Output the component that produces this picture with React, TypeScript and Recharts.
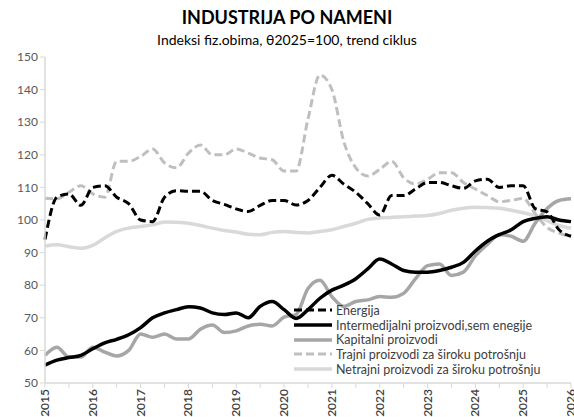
import { LineChart, Line, XAxis, YAxis } from 'recharts';

// kvartalne tačke od 2015 do 2026 (očitano sa grafika)
const startYear = 2015;

const energija = [
  94, 107, 108, 104.5, 110, 110.5, 107, 105, 100, 99.5, 107, 109,
  108.8, 108.8, 106, 104.8, 103.4, 102.6, 104.5, 106, 106, 104.6, 106, 110,
  113.7, 111, 108.5, 105, 101.5, 107.5, 107.5, 109.5, 111.5, 111.5, 110.5, 109.7,
  112, 112.5, 110, 110.5, 110.5, 103.5, 102.5, 97, 95,
];
const intermedijalni = [
  55.5, 57, 57.8, 58.5, 60.5, 62.3, 63.4, 64.8, 67, 70, 71.5, 72.5,
  73.4, 73, 71.5, 71, 71.5, 70, 73.5, 75, 72.5, 69.8, 72.5, 76,
  78.5, 80, 82, 85, 88, 86.5, 84.5, 84, 84, 84.5, 85.5, 87,
  90.5, 93.5, 95.5, 97, 99.5, 100.5, 101, 100, 99.5,
];
const kapitalni = [
  58.5, 61, 58, 58, 61, 59.5, 58.3, 60, 65, 64, 65, 63.5,
  63.5, 66.5, 67.8, 65.5, 66, 67.5, 68, 67.5, 70.2, 71, 79, 81.5,
  76.5, 73.5, 75, 75.5, 76.5, 76.3, 77.5, 82, 86, 86.5, 83, 84,
  89, 92.5, 95.5, 95, 93.5, 99, 103.5, 106, 106.5,
];
const trajni = [
  106.7, 106.5, 108.5, 110.5, 108, 107, 118, 118, 119.5, 121.8, 117.5, 116,
  120.5, 123, 120, 120, 121.8, 120.5, 119, 118.5, 115, 115, 131, 144.5,
  140, 124, 116, 113.5, 115.5, 118, 113, 111, 112.5, 114.5, 114.5, 111.5,
  109.5, 107.5, 105.6, 106, 106.6, 102, 97.7, 96, 95,
];
const netrajni = [
  92, 92.4, 91.8, 91.3, 92.2, 94.5, 96.5, 97.5, 98, 98.5, 99.4, 99.3,
  99, 98.3, 97.5, 96.8, 96.3, 95.6, 95.5, 96.2, 96.5, 96.2, 96, 96.5,
  97, 98, 99, 100.2, 100.6, 100.8, 101, 101.2, 101.4, 102, 103, 103.6,
  103.9, 103.8, 103.6, 103, 102.2, 101.3, 99.8, 98.3, 97.5,
];

const yTicks = [50, 60, 70, 80, 90, 100, 110, 120, 130, 140, 150];
const xTicks = Array.from({ length: 23 }, (_, i) => startYear + i * 0.5);

const series = [
  { key: 'energija', name: 'Energija', color: '#000000', width: 3, dash: '8 4' },
  { key: 'intermedijalni', name: 'Intermedijalni proizvodi,sem enegije', color: '#000000', width: 3.5, dash: undefined },
  { key: 'kapitalni', name: 'Kapitalni proizvodi', color: '#A6A6A6', width: 3.5, dash: undefined },
  { key: 'trajni', name: 'Trajni proizvodi za široku potrošnju', color: '#BFBFBF', width: 3, dash: '8 4' },
  { key: 'netrajni', name: 'Netrajni proizvodi za široku potrošnju', color: '#D9D9D9', width: 3.5, dash: undefined },
];

const data = energija.map((v, i) => ({
  x: startYear + i * 0.25,
  energija: v,
  intermedijalni: intermedijalni[i],
  kapitalni: kapitalni[i],
  trajni: trajni[i],
  netrajni: netrajni[i],
}));

const font = 'Lato, "Open Sans", sans-serif';

function YearTick(props: any) {
  const { x, y, payload } = props;
  if (!Number.isInteger(payload.value)) return null;
  return (
    <text
      x={0}
      y={0}
      transform={`translate(${x + 4},${y - 1}) rotate(-90)`}
      textAnchor="end"
      fontSize={12}
      fontWeight={600}
      fill="#404040"
      fontFamily={font}
    >
      {payload.value}
    </text>
  );
}

function LegendBox() {
  return (
    <div
      style={{
        position: 'absolute',
        left: 293,
        top: 303,
        fontFamily: font,
        fontSize: 12.5,
        color: '#404040',
      }}
    >
      {series.map((s) => (
        <div key={s.key} style={{ display: 'flex', alignItems: 'center', height: 14.7 }}>
          <svg width={40} height={10} style={{ marginRight: 3 }}>
            <line x1={1} y1={5} x2={39} y2={5} stroke={s.color} strokeWidth={s.width} strokeDasharray={s.dash} />
          </svg>
          <span style={{ whiteSpace: 'nowrap' }}>{s.name}</span>
        </div>
      ))}
    </div>
  );
}

export default function App() {
  return (
    <div style={{ position: 'absolute', left: 0, top: 0, width: 574, height: 417, background: '#fff', overflow: 'hidden' }}>
      <div
        style={{
          position: 'absolute',
          top: 6,
          width: 574,
          textAlign: 'center',
          fontFamily: font,
          fontWeight: 700,
          fontSize: 18,
          color: '#000',
        }}
      >
        INDUSTRIJA PO NAMENI
      </div>
      <div
        style={{
          position: 'absolute',
          top: 31,
          width: 574,
          textAlign: 'center',
          fontFamily: font,
          fontSize: 14,
          color: '#000',
        }}
      >
        Indeksi fiz.obima, θ2025=100, trend ciklus
      </div>
      <LineChart width={574} height={417} data={data} margin={{ top: 57, right: 3, bottom: 4, left: 10 }}>
        <XAxis
          dataKey="x"
          type="number"
          domain={[2015, 2026]}
          ticks={xTicks}
          interval={0}
          tick={<YearTick />}
          tickLine={{ stroke: '#D9D9D9' }}
          tickSize={5}
          axisLine={{ stroke: '#D9D9D9', strokeWidth: 1.5 }}
          height={30}
        />
        <YAxis
          type="number"
          domain={[50, 150]}
          ticks={yTicks}
          interval={0}
          width={35}
          tick={{ fill: '#595959', fontSize: 12, fontFamily: font }}
          tickLine={{ stroke: '#D9D9D9' }}
          tickSize={5}
          axisLine={{ stroke: '#D9D9D9', strokeWidth: 1.5 }}
        />
        {series
          .slice()
          .reverse()
          .map((s) => (
            <Line
              key={s.key}
              type="monotone"
              dataKey={s.key}
              name={s.name}
              stroke={s.color}
              strokeWidth={s.width}
              strokeDasharray={s.dash}
              dot={false}
              isAnimationActive={false}
            />
          ))}
      </LineChart>
      <LegendBox />
    </div>
  );
}
